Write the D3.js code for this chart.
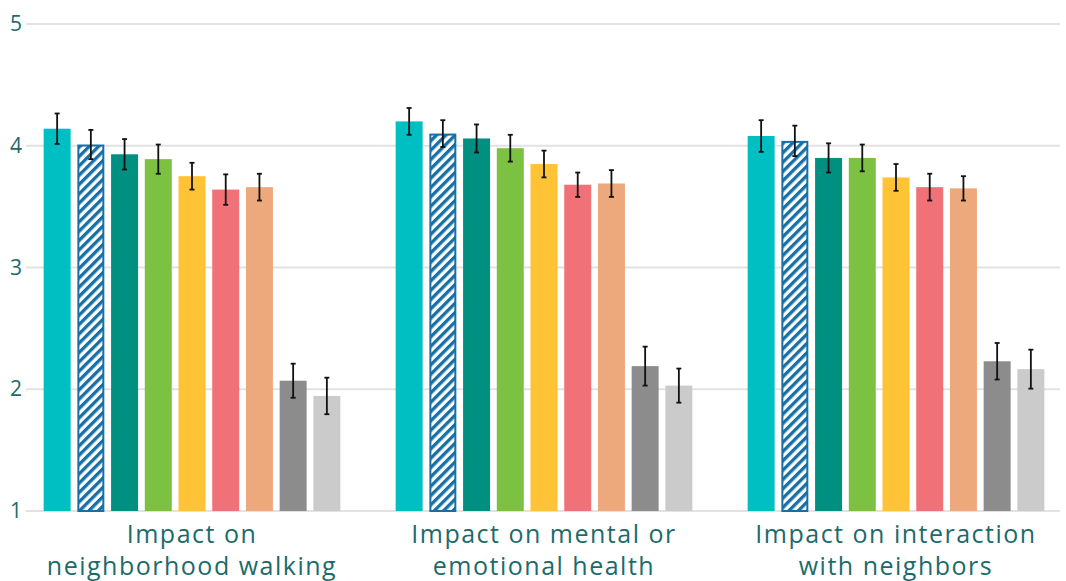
<!DOCTYPE html>
<html>
<head>
<meta charset="utf-8">
<script src="https://cdn.jsdelivr.net/npm/d3@7"></script>
<style>
  html, body { margin: 0; padding: 0; background: #ffffff; }
  svg { display: block; }
  text { font-family: "Open Sans", "Noto Sans", sans-serif; }
</style>
</head>
<body>
<svg id="chart" width="1066" height="581"></svg>
<script>
// Survey outcome categories (x groups)
const categories = [
  ["Impact on", "neighborhood walking"],
  ["Impact on mental or", "emotional health"],
  ["Impact on interaction", "with neighbors"]
];

// Nine respondent groups drawn within each category
const seriesKeys = ["s1", "s2", "s3", "s4", "s5", "s6", "s7", "s8", "s9"];
const seriesColors = ["#00BFC2", "#1670A6", "#009082", "#7DC143", "#FFC335", "#F07178", "#EDA87C", "#8C8C8C", "#CBCBCB"];

// Mean ratings per series, one value per category
const meanValues = [
  [4.14, 4.20, 4.08],
  [4.01, 4.10, 4.04],
  [3.93, 4.06, 3.90],
  [3.89, 3.98, 3.90],
  [3.75, 3.85, 3.74],
  [3.64, 3.68, 3.66],
  [3.66, 3.69, 3.65],
  [2.07, 2.19, 2.23],
  [1.945, 2.03, 2.165]
];

// Half-width of the error bars, same layout as meanValues
const errorValues = [
  [0.125, 0.11, 0.13],
  [0.12, 0.11, 0.125],
  [0.125, 0.115, 0.12],
  [0.12, 0.11, 0.11],
  [0.11, 0.11, 0.11],
  [0.125, 0.10, 0.11],
  [0.11, 0.11, 0.10],
  [0.14, 0.16, 0.15],
  [0.15, 0.14, 0.16]
];

// Y axis ticks
const yTicks = [1, 2, 3, 4, 5];

const svg = d3.select("#chart");
const textColor = "#1B6B6C";
const fontStack = "'Open Sans', 'Noto Sans', sans-serif";

const y = d3.scaleLinear().domain([1, 5]).range([511, 24]);

const x0 = d3.scaleBand()
  .domain(d3.range(categories.length))
  .range([16, 1072])
  .paddingInner(0)
  .paddingOuter(0);

const x1 = d3.scaleBand()
  .domain(seriesKeys)
  .range([0, x0.bandwidth()])
  .paddingInner(0.2)
  .paddingOuter(0.82);

// Diagonal hatch for the second series
const defs = svg.append("defs");
const pat = defs.append("pattern")
  .attr("id", "hatch")
  .attr("patternUnits", "userSpaceOnUse")
  .attr("width", 6.6)
  .attr("height", 6.6)
  .attr("patternTransform", "rotate(45)");
pat.append("rect").attr("width", 6.6).attr("height", 6.6).attr("fill", "#ffffff");
pat.append("rect").attr("width", 3.3).attr("height", 6.6).attr("fill", seriesColors[1]);

// Gridlines
svg.append("g")
  .selectAll("line")
  .data(yTicks)
  .join("line")
  .attr("x1", 26)
  .attr("x2", 1060)
  .attr("y1", d => y(d))
  .attr("y2", d => y(d))
  .attr("stroke", "#E2E2E2")
  .attr("stroke-width", 2);

// Y axis tick labels
const yAxis = d3.axisLeft(y).tickValues(yTicks).tickSize(0).tickPadding(0).tickFormat(d3.format("d"));
const yG = svg.append("g").attr("transform", "translate(22,0)").call(yAxis);
yG.select(".domain").remove();
yG.selectAll("text")
  .attr("fill", textColor)
  .attr("font-size", 21)
  .attr("font-family", fontStack);

// Bars
const rows = [];
seriesKeys.forEach((k, si) => {
  categories.forEach((c, ci) => {
    rows.push({ key: k, si, ci, v: meanValues[si][ci], e: errorValues[si][ci] });
  });
});

const barG = svg.append("g");
barG.selectAll("rect")
  .data(rows)
  .join("rect")
  .attr("x", d => x0(d.ci) + x1(d.key) + (d.si === 1 ? 1 : 0))
  .attr("y", d => y(d.v) + (d.si === 1 ? 1 : 0))
  .attr("width", d => x1.bandwidth() - (d.si === 1 ? 2 : 0))
  .attr("height", d => y(1) - y(d.v) - (d.si === 1 ? 1 : 0))
  .attr("fill", d => d.si === 1 ? "url(#hatch)" : seriesColors[d.si])
  .attr("stroke", d => d.si === 1 ? seriesColors[1] : "none")
  .attr("stroke-width", d => d.si === 1 ? 2 : 0);

// Error bars
const errG = svg.append("g").attr("stroke", "#111111");
const cx = d => x0(d.ci) + x1(d.key) + x1.bandwidth() / 2;
errG.selectAll("line.v")
  .data(rows)
  .join("line")
  .attr("class", "v")
  .attr("x1", cx).attr("x2", cx)
  .attr("y1", d => y(d.v + d.e))
  .attr("y2", d => y(d.v - d.e))
  .attr("stroke-width", 1.8);
["top", "bot"].forEach(side => {
  errG.selectAll("line." + side)
    .data(rows)
    .join("line")
    .attr("class", side)
    .attr("x1", d => cx(d) - 2.5)
    .attr("x2", d => cx(d) + 2.5)
    .attr("y1", d => y(side === "top" ? d.v + d.e : d.v - d.e))
    .attr("y2", d => y(side === "top" ? d.v + d.e : d.v - d.e))
    .attr("stroke-width", 1.8);
});

// Category labels
const labG = svg.append("g");
categories.forEach((lines, ci) => {
  const t = labG.append("text")
    .attr("x", x0(ci) + x0.bandwidth() / 2)
    .attr("y", 543)
    .attr("text-anchor", "middle")
    .attr("fill", textColor)
    .attr("font-size", 25)
    .attr("letter-spacing", 1.5)
    .attr("font-family", fontStack);
  lines.forEach((ln, li) => {
    t.append("tspan")
      .attr("x", x0(ci) + x0.bandwidth() / 2)
      .attr("dy", li === 0 ? 0 : 31.5)
      .text(ln);
  });
});
</script>
</body>
</html>
